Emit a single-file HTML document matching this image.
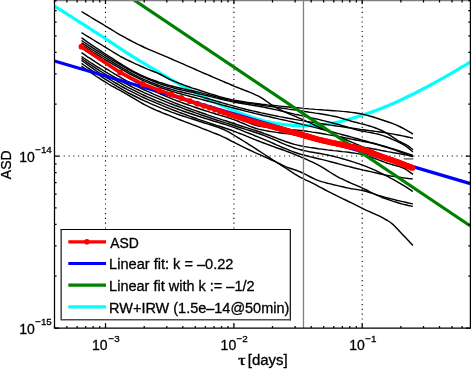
<!DOCTYPE html>
<html><head><meta charset="utf-8"><title>ASD</title>
<style>html,body{margin:0;padding:0;background:#fff}body{width:471px;height:369px;overflow:hidden}</style></head>
<body>
<svg width="471" height="369" viewBox="0 0 471 369" style="display:block;font-family:'Liberation Sans',sans-serif" stroke-linecap="butt">
<rect width="471" height="369" fill="#fff"/>
<clipPath id="c"><rect x="54.5" y="0" width="415.9" height="328.0"/></clipPath>
<g stroke="#000" stroke-width="1.1" stroke-dasharray="1.1 3.69" fill="none">
<path d="M105.5,324.3 V0" />
<path d="M233.9,324.3 V0" />
<path d="M362.2,324.3 V0" />
<path d="M58.9,156.0 H470.4"/>
</g>
<g clip-path="url(#c)" fill="none" stroke-linejoin="round">
<path d="M54.5,6.2 L56.5,7.4 L58.5,8.7 L60.5,9.9 L62.5,11.2 L64.5,12.4 L66.5,13.7 L68.5,15.0 L70.5,16.2 L72.5,17.5 L74.5,18.8 L76.5,20.0 L78.5,21.3 L80.5,22.6 L82.5,23.9 L84.5,25.2 L86.5,26.4 L88.5,27.7 L90.5,29.0 L92.5,30.3 L94.5,31.6 L96.5,32.8 L98.5,34.1 L100.5,35.4 L102.5,36.7 L104.5,38.0 L106.5,39.3 L108.5,40.6 L110.5,42.0 L112.5,43.3 L114.5,44.6 L116.5,46.0 L118.5,47.3 L120.5,48.6 L122.5,50.0 L124.5,51.3 L126.5,52.6 L128.5,53.8 L130.5,55.1 L132.5,56.4 L134.5,57.6 L136.5,58.8 L138.5,60.1 L140.5,61.3 L142.5,62.5 L144.5,63.7 L146.5,64.9 L148.5,66.1 L150.5,67.3 L152.5,68.5 L154.5,69.7 L156.5,70.9 L158.5,72.1 L160.5,73.3 L162.5,74.5 L164.5,75.7 L166.5,76.8 L168.5,78.0 L170.5,79.2 L172.5,80.3 L174.5,81.5 L176.5,82.6 L178.5,83.7 L180.5,84.9 L182.5,86.0 L184.5,87.1 L186.5,88.1 L188.5,89.2 L190.5,90.3 L192.5,91.3 L194.5,92.3 L196.5,93.4 L198.5,94.4 L200.5,95.4 L202.5,96.4 L204.5,97.4 L206.5,98.3 L208.5,99.3 L210.5,100.2 L212.5,101.2 L214.5,102.1 L216.5,103.0 L218.5,103.9 L220.5,104.8 L222.5,105.7 L224.5,106.5 L226.5,107.4 L228.5,108.3 L230.5,109.1 L232.5,109.9 L234.5,110.8 L236.5,111.6 L238.5,112.4 L240.5,113.2 L242.5,113.9 L244.5,114.7 L246.5,115.4 L248.5,116.1 L250.5,116.8 L252.5,117.5 L254.5,118.1 L256.5,118.8 L258.5,119.4 L260.5,119.9 L262.5,120.5 L264.5,121.0 L266.5,121.5 L268.5,121.9 L270.5,122.3 L272.5,122.7 L274.5,123.1 L276.5,123.5 L278.5,123.8 L280.5,124.1 L282.5,124.4 L284.5,124.6 L286.5,124.8 L288.5,125.0 L290.5,125.2 L292.5,125.4 L294.5,125.5 L296.5,125.6 L298.5,125.7 L300.5,125.7 L302.5,125.8 L304.5,125.8 L306.5,125.7 L308.5,125.7 L310.5,125.6 L312.5,125.5 L314.5,125.4 L316.5,125.3 L318.5,125.1 L320.5,124.9 L322.5,124.7 L324.5,124.4 L326.5,124.1 L328.5,123.8 L330.5,123.5 L332.5,123.2 L334.5,122.8 L336.5,122.4 L338.5,122.0 L340.5,121.5 L342.5,121.0 L344.5,120.5 L346.5,120.0 L348.5,119.4 L350.5,118.8 L352.5,118.2 L354.5,117.6 L356.5,117.0 L358.5,116.4 L360.5,115.8 L362.5,115.1 L364.5,114.5 L366.5,113.8 L368.5,113.1 L370.5,112.5 L372.5,111.7 L374.5,111.0 L376.5,110.3 L378.5,109.5 L380.5,108.7 L382.5,107.9 L384.5,107.1 L386.5,106.3 L388.5,105.5 L390.5,104.6 L392.5,103.7 L394.5,102.9 L396.5,102.0 L398.5,101.1 L400.5,100.1 L402.5,99.2 L404.5,98.3 L406.5,97.3 L408.5,96.3 L410.5,95.3 L412.5,94.4 L414.5,93.4 L416.5,92.3 L418.5,91.3 L420.5,90.3 L422.5,89.2 L424.5,88.2 L426.5,87.1 L428.5,86.1 L430.5,85.0 L432.5,83.9 L434.5,82.8 L436.5,81.7 L438.5,80.6 L440.5,79.5 L442.5,78.3 L444.5,77.2 L446.5,76.1 L448.5,74.9 L450.5,73.8 L452.5,72.6 L454.5,71.5 L456.5,70.3 L458.5,69.1 L460.5,67.9 L462.5,66.7 L464.5,65.6 L466.5,64.4 L468.5,63.2 L470.4,62.0" stroke="#00ffff" stroke-width="3.2"/>
<g stroke="#000" stroke-width="1.45">
<path d="M81.5,11.5 L84.5,13.3 L87.5,15.1 L90.5,17.0 L93.5,18.8 L96.5,20.6 L99.5,22.4 L102.5,24.2 L105.5,26.0 L108.5,27.8 L111.5,29.7 L114.5,31.5 L117.5,33.3 L120.5,35.1 L123.5,36.7 L126.5,38.4 L129.5,40.0 L132.5,41.6 L135.5,43.1 L138.5,44.6 L141.5,46.0 L144.5,47.5 L147.5,48.8 L150.5,50.1 L153.5,51.4 L156.5,52.7 L159.5,53.9 L162.5,55.1 L165.5,56.4 L168.5,57.7 L171.5,59.0 L174.5,60.3 L177.5,61.6 L180.5,62.9 L183.5,64.2 L186.5,65.6 L189.5,66.9 L192.5,68.2 L195.5,69.5 L198.5,70.8 L201.5,72.2 L204.5,73.5 L207.5,74.7 L210.5,76.0 L213.5,77.3 L216.5,78.6 L219.5,79.9 L222.5,81.2 L225.5,82.5 L228.5,83.7 L231.5,85.0 L234.5,86.3 L237.5,87.5 L240.5,88.7 L243.5,89.8 L246.5,91.0 L249.5,92.2 L252.5,93.4 L255.5,94.8 L258.5,96.2 L261.5,97.9 L264.5,99.8 L267.5,102.0 L270.5,104.2 L273.5,106.1 L276.5,107.8 L279.5,109.3 L282.5,110.8 L285.5,112.1 L288.5,113.5 L291.5,114.8 L294.5,116.0 L297.5,117.3 L300.5,118.6 L303.5,119.9 L306.5,121.3 L309.5,122.7 L312.5,124.1 L315.5,125.5 L318.5,127.0 L321.5,128.4 L324.5,129.8 L327.5,131.2 L330.5,132.6 L333.5,134.0 L336.5,135.4 L339.5,136.8 L342.5,138.1 L345.5,139.5 L348.5,140.8 L351.5,142.1 L354.5,143.4 L357.5,144.7 L360.5,146.0 L363.5,147.3 L366.5,148.5 L369.5,149.8 L372.5,151.0 L375.5,152.3 L378.5,153.5 L381.5,154.7 L384.5,155.9 L387.5,157.0 L390.5,158.2 L393.5,159.4 L396.5,160.6 L399.5,161.8 L402.5,163.0 L405.5,164.1 L408.5,165.3 L411.5,166.5 L412.9,167.0"/>
<path d="M81.5,32.7 L84.5,34.5 L87.5,36.4 L90.5,38.2 L93.5,40.0 L96.5,41.8 L99.5,43.7 L102.5,45.5 L105.5,47.3 L108.5,49.2 L111.5,51.0 L114.5,52.9 L117.5,54.7 L120.5,56.5 L123.5,58.0 L126.5,59.6 L129.5,61.0 L132.5,62.4 L135.5,63.8 L138.5,65.1 L141.5,66.5 L144.5,67.8 L147.5,69.1 L150.5,70.3 L153.5,71.5 L156.5,72.7 L159.5,74.0 L162.5,75.5 L165.5,77.2 L168.5,78.8 L171.5,80.2 L174.5,81.4 L177.5,82.6 L180.5,83.8 L183.5,84.9 L186.5,86.0 L189.5,87.0 L192.5,88.1 L195.5,89.0 L198.5,90.0 L201.5,91.0 L204.5,91.9 L207.5,92.9 L210.5,93.9 L213.5,94.8 L216.5,95.7 L219.5,96.6 L222.5,97.4 L225.5,98.2 L228.5,98.9 L231.5,99.6 L234.5,100.2 L237.5,100.7 L240.5,101.2 L243.5,101.7 L246.5,102.2 L249.5,102.6 L252.5,103.0 L255.5,103.4 L258.5,103.8 L261.5,104.2 L264.5,104.5 L267.5,104.9 L270.5,105.2 L273.5,105.5 L276.5,105.8 L279.5,106.1 L282.5,106.4 L285.5,106.7 L288.5,107.0 L291.5,107.3 L294.5,107.6 L297.5,107.8 L300.5,108.1 L303.5,108.4 L306.5,108.6 L309.5,108.9 L312.5,109.1 L315.5,109.4 L318.5,109.6 L321.5,109.8 L324.5,110.1 L327.5,110.3 L330.5,110.5 L333.5,110.7 L336.5,110.9 L339.5,111.1 L342.5,111.4 L345.5,111.6 L348.5,112.0 L351.5,112.4 L354.5,112.8 L357.5,113.3 L360.5,113.8 L363.5,114.4 L366.5,115.1 L369.5,116.0 L372.5,116.8 L375.5,117.8 L378.5,118.7 L381.5,119.7 L384.5,120.7 L387.5,121.7 L390.5,122.7 L393.5,123.9 L396.5,125.1 L399.5,126.5 L402.5,128.0 L405.5,129.7 L408.5,131.4 L411.5,133.2 L412.9,134.1"/>
<path d="M81.5,37.8 L84.5,39.9 L87.5,42.1 L90.5,44.1 L93.5,46.2 L96.5,48.2 L99.5,50.2 L102.5,52.2 L105.5,54.1 L108.5,56.0 L111.5,57.9 L114.5,59.8 L117.5,61.8 L120.5,63.6 L123.5,65.5 L126.5,67.3 L129.5,69.1 L132.5,70.8 L135.5,72.4 L138.5,73.9 L141.5,75.3 L144.5,76.6 L147.5,77.9 L150.5,79.1 L153.5,80.2 L156.5,81.3 L159.5,82.4 L162.5,83.3 L165.5,84.3 L168.5,85.2 L171.5,86.0 L174.5,86.8 L177.5,87.5 L180.5,88.2 L183.5,88.9 L186.5,89.5 L189.5,90.2 L192.5,90.8 L195.5,91.5 L198.5,92.1 L201.5,92.9 L204.5,93.6 L207.5,94.4 L210.5,95.2 L213.5,96.1 L216.5,96.9 L219.5,97.7 L222.5,98.5 L225.5,99.2 L228.5,99.9 L231.5,100.6 L234.5,101.2 L237.5,101.7 L240.5,102.2 L243.5,102.6 L246.5,103.1 L249.5,103.5 L252.5,103.9 L255.5,104.4 L258.5,104.8 L261.5,105.2 L264.5,105.7 L267.5,106.1 L270.5,106.5 L273.5,106.9 L276.5,107.4 L279.5,107.8 L282.5,108.2 L285.5,108.6 L288.5,109.1 L291.5,109.5 L294.5,109.9 L297.5,110.4 L300.5,110.8 L303.5,111.3 L306.5,111.7 L309.5,112.2 L312.5,112.6 L315.5,113.1 L318.5,113.5 L321.5,114.0 L324.5,114.5 L327.5,115.0 L330.5,115.6 L333.5,116.2 L336.5,116.8 L339.5,117.6 L342.5,118.5 L345.5,119.4 L348.5,120.3 L351.5,121.2 L354.5,122.0 L357.5,122.8 L360.5,123.6 L363.5,124.3 L366.5,125.1 L369.5,126.0 L372.5,126.9 L375.5,128.0 L378.5,129.2 L381.5,130.5 L384.5,132.0 L387.5,133.6 L390.5,135.6 L393.5,137.7 L396.5,139.7 L399.5,141.5 L402.5,143.0 L405.5,144.5 L408.5,146.2 L411.5,148.5 L412.9,149.8"/>
<path d="M81.5,40.5 L84.5,42.5 L87.5,44.5 L90.5,46.4 L93.5,48.4 L96.5,50.3 L99.5,52.1 L102.5,54.0 L105.5,55.8 L108.5,57.6 L111.5,59.5 L114.5,61.3 L117.5,63.1 L120.5,64.9 L123.5,66.7 L126.5,68.5 L129.5,70.2 L132.5,71.8 L135.5,73.4 L138.5,74.9 L141.5,76.3 L144.5,77.7 L147.5,78.9 L150.5,80.2 L153.5,81.4 L156.5,82.5 L159.5,83.6 L162.5,84.7 L165.5,85.6 L168.5,86.6 L171.5,87.4 L174.5,88.2 L177.5,89.0 L180.5,89.7 L183.5,90.4 L186.5,91.0 L189.5,91.7 L192.5,92.3 L195.5,93.0 L198.5,93.7 L201.5,94.4 L204.5,95.1 L207.5,95.8 L210.5,96.6 L213.5,97.3 L216.5,98.1 L219.5,98.8 L222.5,99.6 L225.5,100.3 L228.5,100.9 L231.5,101.6 L234.5,102.2 L237.5,102.7 L240.5,103.3 L243.5,103.7 L246.5,104.2 L249.5,104.7 L252.5,105.2 L255.5,105.7 L258.5,106.2 L261.5,106.8 L264.5,107.4 L267.5,108.0 L270.5,108.6 L273.5,109.3 L276.5,109.9 L279.5,110.6 L282.5,111.3 L285.5,112.0 L288.5,112.7 L291.5,113.4 L294.5,114.1 L297.5,114.7 L300.5,115.4 L303.5,116.1 L306.5,116.7 L309.5,117.4 L312.5,118.1 L315.5,118.8 L318.5,119.4 L321.5,120.2 L324.5,120.9 L327.5,121.6 L330.5,122.4 L333.5,123.2 L336.5,124.0 L339.5,124.8 L342.5,125.6 L345.5,126.5 L348.5,127.4 L351.5,128.3 L354.5,129.2 L357.5,130.0 L360.5,130.7 L363.5,131.3 L366.5,131.9 L369.5,132.4 L372.5,133.0 L375.5,133.6 L378.5,134.3 L381.5,135.1 L384.5,136.1 L387.5,137.2 L390.5,138.5 L393.5,139.8 L396.5,141.2 L399.5,142.6 L402.5,144.2 L405.5,146.0 L408.5,148.1 L411.5,150.7 L412.9,152.0"/>
<path d="M81.5,42.8 L84.5,44.7 L87.5,46.7 L90.5,48.6 L93.5,50.5 L96.5,52.3 L99.5,54.2 L102.5,56.0 L105.5,57.8 L108.5,59.6 L111.5,61.4 L114.5,63.3 L117.5,65.1 L120.5,66.9 L123.5,68.7 L126.5,70.4 L129.5,72.1 L132.5,73.8 L135.5,75.4 L138.5,76.9 L141.5,78.3 L144.5,79.7 L147.5,80.9 L150.5,82.2 L153.5,83.3 L156.5,84.5 L159.5,85.6 L162.5,86.6 L165.5,87.6 L168.5,88.5 L171.5,89.4 L174.5,90.3 L177.5,91.1 L180.5,91.8 L183.5,92.5 L186.5,93.2 L189.5,93.9 L192.5,94.6 L195.5,95.4 L198.5,96.1 L201.5,96.9 L204.5,97.7 L207.5,98.5 L210.5,99.4 L213.5,100.3 L216.5,101.1 L219.5,102.0 L222.5,102.9 L225.5,103.7 L228.5,104.6 L231.5,105.4 L234.5,106.3 L237.5,107.1 L240.5,107.9 L243.5,108.7 L246.5,109.5 L249.5,110.2 L252.5,110.9 L255.5,111.5 L258.5,112.2 L261.5,112.9 L264.5,113.5 L267.5,114.1 L270.5,114.8 L273.5,115.4 L276.5,116.0 L279.5,116.6 L282.5,117.1 L285.5,117.7 L288.5,118.3 L291.5,118.8 L294.5,119.4 L297.5,119.9 L300.5,120.4 L303.5,120.9 L306.5,121.5 L309.5,121.9 L312.5,122.4 L315.5,122.9 L318.5,123.3 L321.5,123.8 L324.5,124.2 L327.5,124.6 L330.5,125.1 L333.5,125.5 L336.5,126.0 L339.5,126.4 L342.5,126.8 L345.5,127.2 L348.5,127.7 L351.5,128.1 L354.5,128.5 L357.5,128.9 L360.5,129.4 L363.5,129.8 L366.5,130.2 L369.5,130.6 L372.5,131.0 L375.5,131.4 L378.5,131.8 L381.5,132.2 L384.5,132.6 L387.5,133.1 L390.5,133.6 L393.5,134.1 L396.5,134.7 L399.5,135.3 L402.5,135.9 L405.5,136.5 L408.5,137.2 L411.5,137.9 L412.9,138.2"/>
<path d="M81.5,44.7 L84.5,46.7 L87.5,48.6 L90.5,50.6 L93.5,52.5 L96.5,54.4 L99.5,56.2 L102.5,58.0 L105.5,59.8 L108.5,61.6 L111.5,63.4 L114.5,65.2 L117.5,66.9 L120.5,68.7 L123.5,70.4 L126.5,72.1 L129.5,73.8 L132.5,75.4 L135.5,76.9 L138.5,78.4 L141.5,79.8 L144.5,81.2 L147.5,82.4 L150.5,83.7 L153.5,84.9 L156.5,86.0 L159.5,87.1 L162.5,88.2 L165.5,89.2 L168.5,90.2 L171.5,91.2 L174.5,92.1 L177.5,93.0 L180.5,93.8 L183.5,94.6 L186.5,95.4 L189.5,96.2 L192.5,97.0 L195.5,97.8 L198.5,98.6 L201.5,99.4 L204.5,100.2 L207.5,101.0 L210.5,101.8 L213.5,102.6 L216.5,103.4 L219.5,104.3 L222.5,105.1 L225.5,105.8 L228.5,106.6 L231.5,107.4 L234.5,108.2 L237.5,109.0 L240.5,109.8 L243.5,110.6 L246.5,111.4 L249.5,112.1 L252.5,112.8 L255.5,113.6 L258.5,114.3 L261.5,115.0 L264.5,115.7 L267.5,116.3 L270.5,117.0 L273.5,117.7 L276.5,118.4 L279.5,119.1 L282.5,119.7 L285.5,120.4 L288.5,121.1 L291.5,121.8 L294.5,122.5 L297.5,123.2 L300.5,123.9 L303.5,124.6 L306.5,125.4 L309.5,126.1 L312.5,126.9 L315.5,127.6 L318.5,128.4 L321.5,129.2 L324.5,129.9 L327.5,130.7 L330.5,131.5 L333.5,132.3 L336.5,133.1 L339.5,133.9 L342.5,134.7 L345.5,135.5 L348.5,136.3 L351.5,137.1 L354.5,138.0 L357.5,138.8 L360.5,139.6 L363.5,140.5 L366.5,141.3 L369.5,142.2 L372.5,143.0 L375.5,143.8 L378.5,144.7 L381.5,145.5 L384.5,146.3 L387.5,147.2 L390.5,148.1 L393.5,149.0 L396.5,149.9 L399.5,150.9 L402.5,151.9 L405.5,152.9 L408.5,153.9 L411.5,155.0 L412.9,155.5"/>
<path d="M81.5,47.3 L84.5,49.3 L87.5,51.3 L90.5,53.3 L93.5,55.3 L96.5,57.2 L99.5,59.1 L102.5,61.0 L105.5,62.9 L108.5,64.8 L111.5,66.7 L114.5,68.6 L117.5,70.5 L120.5,72.4 L123.5,74.2 L126.5,76.0 L129.5,77.7 L132.5,79.3 L135.5,80.8 L138.5,82.3 L141.5,83.7 L144.5,85.0 L147.5,86.3 L150.5,87.6 L153.5,88.8 L156.5,90.0 L159.5,91.2 L162.5,92.4 L165.5,93.5 L168.5,94.6 L171.5,95.8 L174.5,96.9 L177.5,97.9 L180.5,99.0 L183.5,100.0 L186.5,101.0 L189.5,102.0 L192.5,103.0 L195.5,104.0 L198.5,105.0 L201.5,106.0 L204.5,107.0 L207.5,108.0 L210.5,108.9 L213.5,109.9 L216.5,110.8 L219.5,111.8 L222.5,112.8 L225.5,113.8 L228.5,114.8 L231.5,115.8 L234.5,116.8 L237.5,118.0 L240.5,119.2 L243.5,120.6 L246.5,121.9 L249.5,123.1 L252.5,124.2 L255.5,125.2 L258.5,126.0 L261.5,126.5 L264.5,127.0 L267.5,127.4 L270.5,127.8 L273.5,128.1 L276.5,128.4 L279.5,128.6 L282.5,128.9 L285.5,129.1 L288.5,129.4 L291.5,129.6 L294.5,129.9 L297.5,130.2 L300.5,130.5 L303.5,130.8 L306.5,131.2 L309.5,131.6 L312.5,132.1 L315.5,132.5 L318.5,133.0 L321.5,133.5 L324.5,134.0 L327.5,134.6 L330.5,135.1 L333.5,135.6 L336.5,136.2 L339.5,136.7 L342.5,137.3 L345.5,137.9 L348.5,138.5 L351.5,139.1 L354.5,139.7 L357.5,140.3 L360.5,140.9 L363.5,141.5 L366.5,142.0 L369.5,142.6 L372.5,143.3 L375.5,144.0 L378.5,144.8 L381.5,145.7 L384.5,146.7 L387.5,147.6 L390.5,148.6 L393.5,149.6 L396.5,150.6 L399.5,151.7 L402.5,152.8 L405.5,153.9 L408.5,155.1 L411.5,156.2 L412.9,156.8"/>
<path d="M81.5,47.8 L84.5,49.8 L87.5,51.9 L90.5,53.9 L93.5,55.8 L96.5,57.8 L99.5,59.8 L102.5,61.7 L105.5,63.6 L108.5,65.5 L111.5,67.4 L114.5,69.3 L117.5,71.3 L120.5,73.1 L123.5,75.0 L126.5,76.8 L129.5,78.5 L132.5,80.2 L135.5,81.9 L138.5,83.4 L141.5,85.0 L144.5,86.5 L147.5,88.0 L150.5,89.4 L153.5,90.8 L156.5,92.2 L159.5,93.5 L162.5,94.8 L165.5,96.1 L168.5,97.4 L171.5,98.6 L174.5,99.8 L177.5,101.0 L180.5,102.1 L183.5,103.2 L186.5,104.3 L189.5,105.4 L192.5,106.4 L195.5,107.5 L198.5,108.5 L201.5,109.5 L204.5,110.5 L207.5,111.4 L210.5,112.4 L213.5,113.3 L216.5,114.2 L219.5,115.1 L222.5,116.0 L225.5,116.9 L228.5,117.9 L231.5,118.9 L234.5,119.9 L237.5,121.0 L240.5,122.3 L243.5,123.5 L246.5,124.8 L249.5,126.1 L252.5,127.2 L255.5,128.3 L258.5,129.1 L261.5,129.8 L264.5,130.4 L267.5,131.0 L270.5,131.5 L273.5,131.9 L276.5,132.4 L279.5,132.8 L282.5,133.2 L285.5,133.5 L288.5,133.9 L291.5,134.3 L294.5,134.7 L297.5,135.1 L300.5,135.5 L303.5,136.0 L306.5,136.5 L309.5,137.0 L312.5,137.5 L315.5,138.0 L318.5,138.6 L321.5,139.1 L324.5,139.6 L327.5,140.2 L330.5,140.7 L333.5,141.3 L336.5,141.9 L339.5,142.4 L342.5,143.0 L345.5,143.5 L348.5,144.1 L351.5,144.7 L354.5,145.3 L357.5,145.9 L360.5,146.5 L363.5,147.1 L366.5,147.6 L369.5,148.2 L372.5,148.8 L375.5,149.3 L378.5,149.9 L381.5,150.5 L384.5,151.0 L387.5,151.6 L390.5,152.1 L393.5,152.7 L396.5,153.2 L399.5,153.8 L402.5,154.3 L405.5,154.9 L408.5,155.4 L411.5,155.9 L412.9,156.2"/>
<path d="M81.5,52.7 L84.5,54.7 L87.5,56.8 L90.5,58.7 L93.5,60.7 L96.5,62.7 L99.5,64.6 L102.5,66.5 L105.5,68.3 L108.5,70.2 L111.5,72.0 L114.5,73.8 L117.5,75.6 L120.5,77.4 L123.5,79.1 L126.5,80.9 L129.5,82.5 L132.5,84.1 L135.5,85.7 L138.5,87.1 L141.5,88.6 L144.5,90.0 L147.5,91.4 L150.5,92.7 L153.5,94.1 L156.5,95.4 L159.5,96.7 L162.5,97.9 L165.5,99.2 L168.5,100.4 L171.5,101.6 L174.5,102.8 L177.5,104.0 L180.5,105.1 L183.5,106.3 L186.5,107.4 L189.5,108.5 L192.5,109.6 L195.5,110.6 L198.5,111.7 L201.5,112.8 L204.5,113.8 L207.5,114.9 L210.5,115.9 L213.5,116.9 L216.5,117.9 L219.5,118.9 L222.5,119.9 L225.5,120.8 L228.5,121.8 L231.5,122.8 L234.5,123.8 L237.5,124.8 L240.5,125.7 L243.5,126.7 L246.5,127.6 L249.5,128.6 L252.5,129.6 L255.5,130.5 L258.5,131.5 L261.5,132.5 L264.5,133.6 L267.5,134.7 L270.5,135.8 L273.5,137.0 L276.5,138.1 L279.5,139.3 L282.5,140.4 L285.5,141.5 L288.5,142.5 L291.5,143.5 L294.5,144.4 L297.5,145.1 L300.5,145.8 L303.5,146.4 L306.5,146.9 L309.5,147.4 L312.5,147.8 L315.5,148.2 L318.5,148.7 L321.5,149.1 L324.5,149.5 L327.5,149.9 L330.5,150.2 L333.5,150.6 L336.5,150.9 L339.5,151.2 L342.5,151.6 L345.5,151.9 L348.5,152.3 L351.5,152.7 L354.5,153.1 L357.5,153.6 L360.5,154.1 L363.5,154.8 L366.5,155.6 L369.5,156.6 L372.5,157.6 L375.5,158.7 L378.5,159.9 L381.5,161.0 L384.5,162.1 L387.5,163.2 L390.5,164.1 L393.5,165.0 L396.5,165.7 L399.5,166.6 L402.5,167.7 L405.5,169.2 L408.5,171.1 L411.5,173.3 L412.9,174.4"/>
<path d="M81.5,56.5 L84.5,58.5 L87.5,60.5 L90.5,62.5 L93.5,64.4 L96.5,66.3 L99.5,68.2 L102.5,70.0 L105.5,71.8 L108.5,73.6 L111.5,75.4 L114.5,77.2 L117.5,78.9 L120.5,80.6 L123.5,82.3 L126.5,83.9 L129.5,85.5 L132.5,87.1 L135.5,88.6 L138.5,90.0 L141.5,91.4 L144.5,92.8 L147.5,94.1 L150.5,95.4 L153.5,96.7 L156.5,97.9 L159.5,99.2 L162.5,100.4 L165.5,101.6 L168.5,102.8 L171.5,104.0 L174.5,105.2 L177.5,106.3 L180.5,107.4 L183.5,108.6 L186.5,109.7 L189.5,110.7 L192.5,111.8 L195.5,112.9 L198.5,113.9 L201.5,115.0 L204.5,116.0 L207.5,117.0 L210.5,118.0 L213.5,119.0 L216.5,120.0 L219.5,120.9 L222.5,121.9 L225.5,122.9 L228.5,123.8 L231.5,124.8 L234.5,125.8 L237.5,126.8 L240.5,127.7 L243.5,128.6 L246.5,129.6 L249.5,130.5 L252.5,131.5 L255.5,132.5 L258.5,133.5 L261.5,134.5 L264.5,135.7 L267.5,136.9 L270.5,138.1 L273.5,139.4 L276.5,140.7 L279.5,142.0 L282.5,143.3 L285.5,144.6 L288.5,145.8 L291.5,146.9 L294.5,148.0 L297.5,148.9 L300.5,149.7 L303.5,150.5 L306.5,151.1 L309.5,151.7 L312.5,152.2 L315.5,152.8 L318.5,153.3 L321.5,153.8 L324.5,154.4 L327.5,155.0 L330.5,155.6 L333.5,156.3 L336.5,157.1 L339.5,157.9 L342.5,158.7 L345.5,159.6 L348.5,160.5 L351.5,161.4 L354.5,162.4 L357.5,163.4 L360.5,164.4 L363.5,165.4 L366.5,166.6 L369.5,167.8 L372.5,169.1 L375.5,170.4 L378.5,171.9 L381.5,173.3 L384.5,174.9 L387.5,176.4 L390.5,178.1 L393.5,179.7 L396.5,181.4 L399.5,183.1 L402.5,184.9 L405.5,186.7 L408.5,188.6 L411.5,190.6 L412.9,191.5"/>
<path d="M81.5,58.4 L84.5,60.5 L87.5,62.6 L90.5,64.6 L93.5,66.6 L96.5,68.6 L99.5,70.6 L102.5,72.5 L105.5,74.3 L108.5,76.1 L111.5,78.0 L114.5,79.7 L117.5,81.5 L120.5,83.2 L123.5,84.9 L126.5,86.6 L129.5,88.2 L132.5,89.7 L135.5,91.2 L138.5,92.7 L141.5,94.1 L144.5,95.5 L147.5,96.9 L150.5,98.2 L153.5,99.5 L156.5,100.8 L159.5,102.0 L162.5,103.2 L165.5,104.4 L168.5,105.6 L171.5,106.8 L174.5,107.9 L177.5,109.0 L180.5,110.1 L183.5,111.2 L186.5,112.2 L189.5,113.2 L192.5,114.2 L195.5,115.3 L198.5,116.3 L201.5,117.2 L204.5,118.2 L207.5,119.1 L210.5,120.0 L213.5,121.0 L216.5,121.8 L219.5,122.8 L222.5,123.7 L225.5,124.6 L228.5,125.6 L231.5,126.6 L234.5,127.6 L237.5,128.7 L240.5,129.9 L243.5,131.1 L246.5,132.3 L249.5,133.5 L252.5,134.7 L255.5,136.0 L258.5,137.2 L261.5,138.4 L264.5,139.7 L267.5,140.9 L270.5,142.2 L273.5,143.5 L276.5,144.9 L279.5,146.2 L282.5,147.5 L285.5,148.7 L288.5,149.9 L291.5,151.1 L294.5,152.2 L297.5,153.2 L300.5,154.2 L303.5,155.0 L306.5,155.8 L309.5,156.6 L312.5,157.3 L315.5,158.0 L318.5,158.7 L321.5,159.4 L324.5,160.1 L327.5,160.9 L330.5,161.7 L333.5,162.5 L336.5,163.3 L339.5,164.1 L342.5,164.9 L345.5,165.7 L348.5,166.4 L351.5,167.2 L354.5,168.0 L357.5,168.7 L360.5,169.4 L363.5,170.1 L366.5,170.7 L369.5,171.4 L372.5,172.1 L375.5,172.8 L378.5,173.5 L381.5,174.2 L384.5,174.8 L387.5,175.4 L390.5,176.0 L393.5,176.4 L396.5,176.9 L399.5,177.3 L402.5,177.8 L405.5,178.1 L408.5,178.5 L411.5,178.8 L412.9,178.9"/>
<path d="M81.5,60.3 L84.5,62.5 L87.5,64.7 L90.5,66.8 L93.5,68.9 L96.5,71.0 L99.5,73.0 L102.5,74.9 L105.5,76.8 L108.5,78.7 L111.5,80.5 L114.5,82.3 L117.5,84.0 L120.5,85.8 L123.5,87.5 L126.5,89.1 L129.5,90.7 L132.5,92.2 L135.5,93.7 L138.5,95.2 L141.5,96.6 L144.5,98.0 L147.5,99.3 L150.5,100.6 L153.5,101.9 L156.5,103.2 L159.5,104.4 L162.5,105.7 L165.5,106.9 L168.5,108.1 L171.5,109.3 L174.5,110.5 L177.5,111.6 L180.5,112.8 L183.5,113.9 L186.5,115.0 L189.5,116.1 L192.5,117.2 L195.5,118.3 L198.5,119.4 L201.5,120.4 L204.5,121.4 L207.5,122.4 L210.5,123.4 L213.5,124.4 L216.5,125.4 L219.5,126.3 L222.5,127.3 L225.5,128.3 L228.5,129.3 L231.5,130.3 L234.5,131.4 L237.5,132.6 L240.5,133.7 L243.5,134.9 L246.5,136.2 L249.5,137.4 L252.5,138.6 L255.5,139.8 L258.5,141.0 L261.5,142.2 L264.5,143.3 L267.5,144.4 L270.5,145.5 L273.5,146.6 L276.5,147.7 L279.5,148.7 L282.5,149.8 L285.5,150.9 L288.5,152.0 L291.5,153.2 L294.5,154.4 L297.5,155.6 L300.5,156.8 L303.5,158.1 L306.5,159.4 L309.5,160.8 L312.5,162.2 L315.5,163.7 L318.5,165.2 L321.5,166.9 L324.5,168.7 L327.5,170.6 L330.5,172.5 L333.5,174.4 L336.5,176.2 L339.5,177.8 L342.5,179.2 L345.5,180.7 L348.5,182.0 L351.5,183.3 L354.5,184.6 L357.5,185.9 L360.5,187.2 L363.5,188.6 L366.5,190.0 L369.5,191.6 L372.5,193.1 L375.5,194.6 L378.5,195.9 L381.5,197.2 L384.5,198.3 L387.5,199.3 L390.5,200.4 L393.5,201.4 L396.5,202.3 L399.5,203.2 L402.5,204.1 L405.5,204.8 L408.5,205.5 L411.5,206.1 L412.9,206.4"/>
<path d="M81.5,63.4 L84.5,65.5 L87.5,67.6 L90.5,69.6 L93.5,71.6 L96.5,73.6 L99.5,75.5 L102.5,77.4 L105.5,79.3 L108.5,81.2 L111.5,83.0 L114.5,84.8 L117.5,86.6 L120.5,88.4 L123.5,90.1 L126.5,91.8 L129.5,93.5 L132.5,95.0 L135.5,96.5 L138.5,98.0 L141.5,99.5 L144.5,100.9 L147.5,102.2 L150.5,103.6 L153.5,104.9 L156.5,106.1 L159.5,107.4 L162.5,108.6 L165.5,109.8 L168.5,110.9 L171.5,112.1 L174.5,113.1 L177.5,114.2 L180.5,115.2 L183.5,116.2 L186.5,117.1 L189.5,118.1 L192.5,119.0 L195.5,120.0 L198.5,121.0 L201.5,122.0 L204.5,123.0 L207.5,123.9 L210.5,124.8 L213.5,125.8 L216.5,126.8 L219.5,127.9 L222.5,129.0 L225.5,130.3 L228.5,131.9 L231.5,133.7 L234.5,135.5 L237.5,137.3 L240.5,139.2 L243.5,141.0 L246.5,142.9 L249.5,144.8 L252.5,146.7 L255.5,148.6 L258.5,150.6 L261.5,152.5 L264.5,154.5 L267.5,156.4 L270.5,158.3 L273.5,160.3 L276.5,162.2 L279.5,164.2 L282.5,166.1 L285.5,168.0 L288.5,169.9 L291.5,171.9 L294.5,173.8 L297.5,175.6 L300.5,177.3 L303.5,178.8 L306.5,180.3 L309.5,181.7 L312.5,183.2 L315.5,184.7 L318.5,186.3 L321.5,187.9 L324.5,189.5 L327.5,191.1 L330.5,192.7 L333.5,194.2 L336.5,195.7 L339.5,197.1 L342.5,198.6 L345.5,200.0 L348.5,201.5 L351.5,202.9 L354.5,204.4 L357.5,205.9 L360.5,207.4 L363.5,208.8 L366.5,210.3 L369.5,211.6 L372.5,213.0 L375.5,214.3 L378.5,215.7 L381.5,217.2 L384.5,218.8 L387.5,220.5 L390.5,222.5 L393.5,224.9 L396.5,227.9 L399.5,231.2 L402.5,234.4 L405.5,237.5 L408.5,240.7 L411.5,243.9 L412.9,245.4"/>
<path d="M81.5,66.1 L84.5,68.3 L87.5,70.4 L90.5,72.5 L93.5,74.5 L96.5,76.5 L99.5,78.4 L102.5,80.4 L105.5,82.2 L108.5,84.0 L111.5,85.8 L114.5,87.4 L117.5,89.1 L120.5,90.7 L123.5,92.4 L126.5,94.1 L129.5,95.8 L132.5,97.6 L135.5,99.4 L138.5,101.2 L141.5,103.0 L144.5,104.7 L147.5,106.2 L150.5,107.6 L153.5,109.0 L156.5,110.3 L159.5,111.5 L162.5,112.8 L165.5,114.0 L168.5,115.2 L171.5,116.4 L174.5,117.6 L177.5,118.8 L180.5,120.0 L183.5,121.1 L186.5,122.3 L189.5,123.4 L192.5,124.6 L195.5,125.7 L198.5,126.9 L201.5,128.1 L204.5,129.3 L207.5,130.4 L210.5,131.6 L213.5,132.8 L216.5,134.0 L219.5,135.2 L222.5,136.6 L225.5,137.9 L228.5,139.5 L231.5,141.1 L234.5,142.7 L237.5,144.2 L240.5,145.7 L243.5,147.2 L246.5,148.6 L249.5,150.0 L252.5,151.4 L255.5,152.8 L258.5,154.1 L261.5,155.4 L264.5,156.8 L267.5,158.1 L270.5,159.5 L273.5,160.9 L276.5,162.3 L279.5,163.7 L282.5,165.2 L285.5,166.6 L288.5,167.8 L291.5,168.8 L294.5,169.8 L297.5,170.8 L300.5,172.0 L303.5,173.4 L306.5,174.9 L309.5,176.5 L312.5,178.0 L315.5,179.4 L318.5,180.6 L321.5,181.6 L324.5,182.4 L327.5,183.2 L330.5,183.9 L333.5,184.7 L336.5,185.4 L339.5,186.1 L342.5,186.8 L345.5,187.5 L348.5,188.1 L351.5,188.7 L354.5,189.1 L357.5,189.6 L360.5,190.1 L363.5,190.7 L366.5,191.5 L369.5,192.5 L372.5,193.4 L375.5,194.4 L378.5,195.4 L381.5,196.3 L384.5,197.1 L387.5,197.9 L390.5,198.7 L393.5,199.4 L396.5,200.2 L399.5,200.9 L402.5,201.6 L405.5,202.3 L408.5,203.0 L411.5,203.6 L412.9,203.9"/>
</g>
<path d="M403.8,158.9 H413.3" stroke="#808080" stroke-width="1.6"/>
<path d="M303.5,0 V328.0" stroke="#808080" stroke-width="1.3"/>
<path d="M54.5,61.0 L470.4,183.6" stroke="#0000ff" stroke-width="3.2"/>
<path d="M126.6,-5 L470.4,226.0" stroke="#008000" stroke-width="3.2"/>
<path d="M81.5,46.7 L120.1,72.4 L142.7,84.0 L158.7,90.1 L171.1,94.5 L181.3,98.0 L189.9,101.2 L197.3,103.7 L203.9,105.8 L209.7,107.7 L215.0,109.5 L219.9,111.2 L224.3,112.7 L228.5,114.1 L232.3,115.3 L235.9,116.5 L239.3,117.5 L242.5,118.5 L245.5,119.4 L248.3,120.2 L251.1,121.0 L253.6,121.7 L256.1,122.4 L258.5,123.1 L260.8,123.7 L262.9,124.2 L265.0,124.8 L267.1,125.3 L269.0,125.8 L270.9,126.3 L272.7,126.8 L274.5,127.3 L276.2,127.8 L277.9,128.2 L279.5,128.7 L281.1,129.1 L282.6,129.5 L284.1,129.9 L285.5,130.3 L286.9,130.7 L288.3,131.1 L289.7,131.4 L291.0,131.8 L292.2,132.1 L293.5,132.5 L294.7,132.8 L295.9,133.2 L297.1,133.5 L298.2,133.8 L299.4,134.1 L300.5,134.4 L301.6,134.7 L302.6,135.0 L303.7,135.3 L304.7,135.6 L305.7,135.9 L306.7,136.2 L307.6,136.4 L308.6,136.7 L309.5,137.0 L310.4,137.3 L311.3,137.5 L312.2,137.8 L313.1,138.0 L314.0,138.3 L314.8,138.5 L315.7,138.8 L316.5,139.0 L317.3,139.2 L318.1,139.4 L318.9,139.6 L319.7,139.8 L320.4,140.0 L321.2,140.2 L321.9,140.4 L322.7,140.5 L323.4,140.7 L324.1,140.9 L324.8,141.0 L325.5,141.2 L326.2,141.4 L326.9,141.5 L327.6,141.7 L328.3,141.8 L328.9,141.9 L329.6,142.1 L330.2,142.2 L330.8,142.4 L331.5,142.5 L332.1,142.6 L332.7,142.8 L333.3,142.9 L333.9,143.0 L334.5,143.1 L335.1,143.3 L335.7,143.4 L336.3,143.5 L336.8,143.6 L337.4,143.7 L338.0,143.9 L338.5,144.0 L339.1,144.1 L339.6,144.2 L340.2,144.3 L340.7,144.4 L341.2,144.6 L341.7,144.7 L342.3,144.8 L342.8,144.9 L343.3,145.0 L343.8,145.1 L344.3,145.2 L344.8,145.3 L345.3,145.4 L345.8,145.5 L346.2,145.6 L346.7,145.7 L347.2,145.8 L347.7,145.9 L348.1,145.9 L348.6,146.0 L349.0,146.1 L349.5,146.2 L349.9,146.3 L350.4,146.4 L350.8,146.5 L351.3,146.6 L351.7,146.7 L352.2,146.8 L352.6,146.8 L353.0,146.9 L353.4,147.0 L353.9,147.1 L354.3,147.2 L354.7,147.3 L355.1,147.4 L355.5,147.5 L355.9,147.6 L356.3,147.7 L356.7,147.8 L357.1,147.9 L357.5,148.0 L357.9,148.1 L358.3,148.1 L358.7,148.2 L359.0,148.3 L359.4,148.4 L359.8,148.5 L360.2,148.6 L360.5,148.8 L360.9,148.9 L361.3,149.0 L361.7,149.1 L362.0,149.2 L362.4,149.3 L362.7,149.4 L363.1,149.5 L363.4,149.6 L363.8,149.8 L364.1,149.9 L364.5,150.0 L364.8,150.1 L365.2,150.2 L365.5,150.4 L365.9,150.5 L366.2,150.6 L366.5,150.7 L366.9,150.9 L367.2,151.0 L367.5,151.1 L367.8,151.2 L368.2,151.4 L368.5,151.5 L368.8,151.6 L369.1,151.7 L369.5,151.9 L369.8,152.0 L370.1,152.1 L370.4,152.2 L370.7,152.4 L371.0,152.5 L371.3,152.6 L371.6,152.7 L371.9,152.9 L372.2,153.0 L372.5,153.1 L372.8,153.2 L373.1,153.3 L373.4,153.5 L373.7,153.6 L374.0,153.7 L374.3,153.8 L374.6,153.9 L374.9,154.0 L375.2,154.2 L375.4,154.3 L375.7,154.4 L376.0,154.5 L376.3,154.6 L376.6,154.7 L376.8,154.8 L377.1,154.9 L377.4,155.0 L377.7,155.1 L377.9,155.2 L378.2,155.3 L378.5,155.4 L378.8,155.5 L379.0,155.6 L379.3,155.7 L379.6,155.8 L379.8,155.9 L380.1,156.0 L380.3,156.1 L380.6,156.2 L380.9,156.3 L381.1,156.4 L381.4,156.5 L381.6,156.6 L381.9,156.7 L382.1,156.8 L382.4,156.8 L382.6,156.9 L382.9,157.0 L383.1,157.1 L383.4,157.2 L383.6,157.3 L383.9,157.4 L384.1,157.4 L384.4,157.5 L384.6,157.6 L384.8,157.7 L385.1,157.8 L385.3,157.9 L385.6,157.9 L385.8,158.0 L386.0,158.1 L386.3,158.2 L386.5,158.3 L386.7,158.3 L387.0,158.4 L387.2,158.5 L387.4,158.6 L387.6,158.7 L387.9,158.7 L388.1,158.8 L388.3,158.9 L388.6,159.0 L388.8,159.0 L389.0,159.1 L389.2,159.2 L389.4,159.3 L389.7,159.3 L389.9,159.4 L390.1,159.5 L390.3,159.6 L390.5,159.6 L390.8,159.7 L391.0,159.8 L391.2,159.9 L391.4,159.9 L391.6,160.0 L391.8,160.1 L392.0,160.2 L392.2,160.2 L392.5,160.3 L392.7,160.4 L392.9,160.5 L393.1,160.5 L393.3,160.6 L393.5,160.7 L393.7,160.7 L393.9,160.8 L394.1,160.9 L394.3,160.9 L394.5,161.0 L394.7,161.1 L394.9,161.2 L395.1,161.2 L395.3,161.3 L395.5,161.4 L395.7,161.4 L395.9,161.5 L396.1,161.6 L396.3,161.7 L396.5,161.7 L396.7,161.8 L396.9,161.9 L397.1,161.9 L397.3,162.0 L397.5,162.1 L397.6,162.1 L397.8,162.2 L398.0,162.3 L398.2,162.3 L398.4,162.4 L398.6,162.5 L398.8,162.5 L399.0,162.6 L399.2,162.7 L399.3,162.8 L399.5,162.8 L399.7,162.9 L399.9,163.0 L400.1,163.0 L400.3,163.1 L400.4,163.2 L400.6,163.2 L400.8,163.3 L401.0,163.4 L401.2,163.4 L401.3,163.5 L401.5,163.6 L401.7,163.6 L401.9,163.7 L402.0,163.8 L402.2,163.8 L402.4,163.9 L402.6,164.0 L402.7,164.0 L402.9,164.1 L403.1,164.2 L403.3,164.2 L403.4,164.3 L403.6,164.4 L403.8,164.4 L404.0,164.5 L404.1,164.6 L404.3,164.6 L404.5,164.7 L404.6,164.8 L404.8,164.8 L405.0,164.9 L405.1,165.0 L405.3,165.0 L405.5,165.1 L405.6,165.2 L405.8,165.2 L406.0,165.3 L406.1,165.4 L406.3,165.4 L406.4,165.5 L406.6,165.6 L406.8,165.6 L406.9,165.7 L407.1,165.8 L407.3,165.8 L407.4,165.9 L407.6,165.9 L407.7,166.0 L407.9,166.1 L408.1,166.1 L408.2,166.2 L408.4,166.3 L408.5,166.3 L408.7,166.4 L408.8,166.5 L409.0,166.5 L409.2,166.6 L409.3,166.6 L409.5,166.7 L409.6,166.8 L409.8,166.8 L409.9,166.9 L410.1,167.0 L410.2,167.0 L410.4,167.1 L410.5,167.1 L410.7,167.2 L410.8,167.3 L411.0,167.3 L411.1,167.4 L411.3,167.5 L411.4,167.5 L411.6,167.6 L411.7,167.6 L411.9,167.7 L412.0,167.8 L412.2,167.8 L412.3,167.9 L412.5,167.9 L412.6,168.0 L412.8,168.1 L412.9,168.1" stroke="#ff0000" stroke-width="3.6"/>
<g fill="#ff0000" stroke="none">
<circle cx="81.5" cy="46.7" r="2.9"/>
<circle cx="120.1" cy="72.4" r="2.9"/>
<circle cx="142.7" cy="84.0" r="2.9"/>
<circle cx="158.7" cy="90.1" r="2.9"/>
<circle cx="171.1" cy="94.5" r="2.9"/>
<circle cx="181.3" cy="98.0" r="2.9"/>
<circle cx="189.9" cy="101.2" r="2.9"/>
<circle cx="197.3" cy="103.7" r="2.9"/>
<circle cx="203.9" cy="105.8" r="2.9"/>
<circle cx="209.7" cy="107.7" r="2.9"/>
<circle cx="215.0" cy="109.5" r="2.9"/>
<circle cx="219.9" cy="111.2" r="2.9"/>
<circle cx="224.3" cy="112.7" r="2.9"/>
<circle cx="228.5" cy="114.1" r="2.9"/>
<circle cx="232.3" cy="115.3" r="2.9"/>
<circle cx="235.9" cy="116.5" r="2.9"/>
<circle cx="239.3" cy="117.5" r="2.9"/>
<circle cx="242.5" cy="118.5" r="2.9"/>
<circle cx="245.5" cy="119.4" r="2.9"/>
<circle cx="248.3" cy="120.2" r="2.9"/>
<circle cx="251.1" cy="121.0" r="2.9"/>
<circle cx="253.6" cy="121.7" r="2.9"/>
<circle cx="256.1" cy="122.4" r="2.9"/>
<circle cx="258.5" cy="123.1" r="2.9"/>
<circle cx="260.8" cy="123.7" r="2.9"/>
<circle cx="262.9" cy="124.2" r="2.9"/>
<circle cx="265.0" cy="124.8" r="2.9"/>
<circle cx="267.1" cy="125.3" r="2.9"/>
<circle cx="269.0" cy="125.8" r="2.9"/>
<circle cx="270.9" cy="126.3" r="2.9"/>
<circle cx="272.7" cy="126.8" r="2.9"/>
<circle cx="274.5" cy="127.3" r="2.9"/>
<circle cx="276.2" cy="127.8" r="2.9"/>
<circle cx="277.9" cy="128.2" r="2.9"/>
<circle cx="279.5" cy="128.7" r="2.9"/>
<circle cx="281.1" cy="129.1" r="2.9"/>
<circle cx="282.6" cy="129.5" r="2.9"/>
<circle cx="284.1" cy="129.9" r="2.9"/>
<circle cx="285.5" cy="130.3" r="2.9"/>
<circle cx="286.9" cy="130.7" r="2.9"/>
<circle cx="288.3" cy="131.1" r="2.9"/>
<circle cx="289.7" cy="131.4" r="2.9"/>
<circle cx="291.0" cy="131.8" r="2.9"/>
<circle cx="292.2" cy="132.1" r="2.9"/>
<circle cx="293.5" cy="132.5" r="2.9"/>
<circle cx="294.7" cy="132.8" r="2.9"/>
<circle cx="295.9" cy="133.2" r="2.9"/>
<circle cx="297.1" cy="133.5" r="2.9"/>
<circle cx="298.2" cy="133.8" r="2.9"/>
<circle cx="299.4" cy="134.1" r="2.9"/>
<circle cx="300.5" cy="134.4" r="2.9"/>
<circle cx="301.6" cy="134.7" r="2.9"/>
<circle cx="302.6" cy="135.0" r="2.9"/>
<circle cx="303.7" cy="135.3" r="2.9"/>
<circle cx="304.7" cy="135.6" r="2.9"/>
<circle cx="305.7" cy="135.9" r="2.9"/>
<circle cx="306.7" cy="136.2" r="2.9"/>
<circle cx="307.6" cy="136.4" r="2.9"/>
<circle cx="308.6" cy="136.7" r="2.9"/>
<circle cx="309.5" cy="137.0" r="2.9"/>
<circle cx="310.4" cy="137.3" r="2.9"/>
<circle cx="311.3" cy="137.5" r="2.9"/>
<circle cx="313.1" cy="138.0" r="2.9"/>
<circle cx="314.8" cy="138.5" r="2.9"/>
<circle cx="316.5" cy="139.0" r="2.9"/>
<circle cx="318.1" cy="139.4" r="2.9"/>
<circle cx="319.7" cy="139.8" r="2.9"/>
<circle cx="321.2" cy="140.2" r="2.9"/>
<circle cx="322.7" cy="140.5" r="2.9"/>
<circle cx="324.1" cy="140.9" r="2.9"/>
<circle cx="325.5" cy="141.2" r="2.9"/>
<circle cx="326.9" cy="141.5" r="2.9"/>
<circle cx="328.3" cy="141.8" r="2.9"/>
<circle cx="329.6" cy="142.1" r="2.9"/>
<circle cx="330.8" cy="142.4" r="2.9"/>
<circle cx="332.1" cy="142.6" r="2.9"/>
<circle cx="333.3" cy="142.9" r="2.9"/>
<circle cx="334.5" cy="143.1" r="2.9"/>
<circle cx="335.7" cy="143.4" r="2.9"/>
<circle cx="336.8" cy="143.6" r="2.9"/>
<circle cx="338.0" cy="143.9" r="2.9"/>
<circle cx="339.1" cy="144.1" r="2.9"/>
<circle cx="340.2" cy="144.3" r="2.9"/>
<circle cx="341.2" cy="144.6" r="2.9"/>
<circle cx="342.3" cy="144.8" r="2.9"/>
<circle cx="343.3" cy="145.0" r="2.9"/>
<circle cx="344.3" cy="145.2" r="2.9"/>
<circle cx="345.3" cy="145.4" r="2.9"/>
<circle cx="346.2" cy="145.6" r="2.9"/>
<circle cx="347.2" cy="145.8" r="2.9"/>
<circle cx="348.1" cy="145.9" r="2.9"/>
<circle cx="349.0" cy="146.1" r="2.9"/>
<circle cx="349.9" cy="146.3" r="2.9"/>
<circle cx="351.3" cy="146.6" r="2.9"/>
<circle cx="352.6" cy="146.8" r="2.9"/>
<circle cx="353.9" cy="147.1" r="2.9"/>
<circle cx="355.1" cy="147.4" r="2.9"/>
<circle cx="356.3" cy="147.7" r="2.9"/>
<circle cx="357.5" cy="148.0" r="2.9"/>
<circle cx="358.7" cy="148.2" r="2.9"/>
<circle cx="359.8" cy="148.5" r="2.9"/>
<circle cx="360.9" cy="148.9" r="2.9"/>
<circle cx="362.0" cy="149.2" r="2.9"/>
<circle cx="363.1" cy="149.5" r="2.9"/>
<circle cx="364.1" cy="149.9" r="2.9"/>
<circle cx="365.2" cy="150.2" r="2.9"/>
<circle cx="366.2" cy="150.6" r="2.9"/>
<circle cx="367.2" cy="151.0" r="2.9"/>
<circle cx="368.2" cy="151.4" r="2.9"/>
<circle cx="369.1" cy="151.7" r="2.9"/>
<circle cx="370.1" cy="152.1" r="2.9"/>
<circle cx="371.0" cy="152.5" r="2.9"/>
<circle cx="371.9" cy="152.9" r="2.9"/>
<circle cx="372.8" cy="153.2" r="2.9"/>
<circle cx="374.0" cy="153.7" r="2.9"/>
<circle cx="375.2" cy="154.2" r="2.9"/>
<circle cx="376.3" cy="154.6" r="2.9"/>
<circle cx="377.4" cy="155.0" r="2.9"/>
<circle cx="378.5" cy="155.4" r="2.9"/>
<circle cx="379.6" cy="155.8" r="2.9"/>
<circle cx="380.6" cy="156.2" r="2.9"/>
<circle cx="381.6" cy="156.6" r="2.9"/>
<circle cx="382.6" cy="156.9" r="2.9"/>
<circle cx="383.6" cy="157.3" r="2.9"/>
<circle cx="384.6" cy="157.6" r="2.9"/>
<circle cx="385.6" cy="157.9" r="2.9"/>
<circle cx="386.5" cy="158.3" r="2.9"/>
<circle cx="387.4" cy="158.6" r="2.9"/>
<circle cx="388.3" cy="158.9" r="2.9"/>
<circle cx="389.4" cy="159.3" r="2.9"/>
<circle cx="390.5" cy="159.6" r="2.9"/>
<circle cx="391.6" cy="160.0" r="2.9"/>
<circle cx="392.7" cy="160.4" r="2.9"/>
<circle cx="393.7" cy="160.7" r="2.9"/>
<circle cx="394.7" cy="161.1" r="2.9"/>
<circle cx="395.7" cy="161.4" r="2.9"/>
<circle cx="396.7" cy="161.8" r="2.9"/>
<circle cx="397.6" cy="162.1" r="2.9"/>
<circle cx="398.6" cy="162.5" r="2.9"/>
<circle cx="399.5" cy="162.8" r="2.9"/>
<circle cx="400.4" cy="163.2" r="2.9"/>
<circle cx="401.5" cy="163.6" r="2.9"/>
<circle cx="402.6" cy="164.0" r="2.9"/>
<circle cx="403.6" cy="164.4" r="2.9"/>
<circle cx="404.6" cy="164.8" r="2.9"/>
<circle cx="405.6" cy="165.2" r="2.9"/>
<circle cx="406.6" cy="165.6" r="2.9"/>
<circle cx="407.6" cy="165.9" r="2.9"/>
<circle cx="408.5" cy="166.3" r="2.9"/>
<circle cx="409.5" cy="166.7" r="2.9"/>
<circle cx="410.4" cy="167.1" r="2.9"/>
<circle cx="411.3" cy="167.5" r="2.9"/>
<circle cx="412.3" cy="167.9" r="2.9"/>
</g>
</g>
<path d="M54.5,0 H471.0" stroke="#808080" stroke-width="2.4"/>
<g stroke="#000" stroke-width="1.25" fill="none">
<path d="M54.5,0 V328.0 H470.4 V0"/>
<path d="M54.5,328.0 v-2.1 M54.5,0 v2.6 M66.9,328.0 v-2.1 M66.9,0 v2.6 M77.1,328.0 v-2.1 M77.1,0 v2.6 M85.7,328.0 v-2.1 M85.7,0 v2.6 M93.1,328.0 v-2.1 M93.1,0 v2.6 M99.7,328.0 v-2.1 M99.7,0 v2.6 M105.5,328.0 v-4.6 M105.5,0 v4.0 M144.2,328.0 v-2.1 M144.2,0 v2.6 M166.8,328.0 v-2.1 M166.8,0 v2.6 M182.8,328.0 v-2.1 M182.8,0 v2.6 M195.3,328.0 v-2.1 M195.3,0 v2.6 M205.4,328.0 v-2.1 M205.4,0 v2.6 M214.0,328.0 v-2.1 M214.0,0 v2.6 M221.5,328.0 v-2.1 M221.5,0 v2.6 M228.0,328.0 v-2.1 M228.0,0 v2.6 M233.9,328.0 v-4.6 M233.9,0 v4.0 M272.5,328.0 v-2.1 M272.5,0 v2.6 M295.1,328.0 v-2.1 M295.1,0 v2.6 M311.2,328.0 v-2.1 M311.2,0 v2.6 M323.6,328.0 v-2.1 M323.6,0 v2.6 M333.8,328.0 v-2.1 M333.8,0 v2.6 M342.4,328.0 v-2.1 M342.4,0 v2.6 M349.8,328.0 v-2.1 M349.8,0 v2.6 M356.4,328.0 v-2.1 M356.4,0 v2.6 M362.2,328.0 v-4.6 M362.2,0 v4.0 M400.9,328.0 v-2.1 M400.9,0 v2.6 M423.5,328.0 v-2.1 M423.5,0 v2.6 M439.5,328.0 v-2.1 M439.5,0 v2.6 M452.0,328.0 v-2.1 M452.0,0 v2.6 M462.1,328.0 v-2.1 M462.1,0 v2.6 M470.7,328.0 v-2.1 M470.7,0 v2.6 M54.5,328.0 h4.6 M470.4,328.0 h-4.6 M54.5,276.2 h2.1 M470.4,276.2 h-2.1 M54.5,245.9 h2.1 M470.4,245.9 h-2.1 M54.5,224.4 h2.1 M470.4,224.4 h-2.1 M54.5,207.8 h2.1 M470.4,207.8 h-2.1 M54.5,194.2 h2.1 M470.4,194.2 h-2.1 M54.5,182.6 h2.1 M470.4,182.6 h-2.1 M54.5,172.7 h2.1 M470.4,172.7 h-2.1 M54.5,163.9 h2.1 M470.4,163.9 h-2.1 M54.5,156.0 h4.6 M470.4,156.0 h-4.6 M54.5,104.2 h2.1 M470.4,104.2 h-2.1 M54.5,73.9 h2.1 M470.4,73.9 h-2.1 M54.5,52.4 h2.1 M470.4,52.4 h-2.1 M54.5,35.8 h2.1 M470.4,35.8 h-2.1 M54.5,22.2 h2.1 M470.4,22.2 h-2.1 M54.5,10.6 h2.1 M470.4,10.6 h-2.1 M54.5,0.7 h2.1 M470.4,0.7 h-2.1"/>
</g>
<g stroke="#000" stroke-width="0.3" fill="#000">
<text x="92.0" y="349.8" font-size="14">10</text>
<text x="108.6" y="341.7" font-size="9.8">−3</text>
<text x="220.6" y="349.8" font-size="14">10</text>
<text x="236.6" y="341.7" font-size="9.8">−2</text>
<text x="349.2" y="349.8" font-size="14">10</text>
<text x="365.2" y="341.7" font-size="9.8">−1</text>
<text x="19.3" y="161.6" font-size="14">10</text>
<text x="35.2" y="153.1" font-size="9.8">−14</text>
<text x="19.3" y="333.6" font-size="14">10</text>
<text x="35.2" y="325.1" font-size="9.8">−15</text>
<text x="238.3" y="365.2" font-size="13.8" textLength="7.3" lengthAdjust="spacingAndGlyphs" font-family="'Liberation Serif',serif" stroke-width="0.45">τ</text>
<text x="247.74" y="365.2" font-size="14" textLength="39.92" lengthAdjust="spacingAndGlyphs">[days]</text>
<text transform="translate(11.1,179.2) rotate(-90)" font-size="14">ASD</text>
<rect x="61.0" y="229.5" width="229.3" height="90.5" fill="#fff" stroke="none"/>
<path d="M60.4,229.5 H290.3 V320.4" fill="none" stroke="#000" stroke-width="1.15"/>
<path d="M61.2,229.5 V319.7 H290.8" fill="none" stroke="#505050" stroke-width="1.6"/>
<path d="M68.3,241.8 H106" stroke="#ff0000" stroke-width="3.2"/>
<text x="110.27" y="247.5" font-size="14" textLength="28.69" lengthAdjust="spacingAndGlyphs">ASD</text>
<path d="M68.3,263.5 H106" stroke="#0000ff" stroke-width="3.2"/>
<text x="109.11" y="269.2" font-size="14" textLength="124.33" lengthAdjust="spacingAndGlyphs">Linear fit: k = –0.22</text>
<path d="M68.3,285.2 H106" stroke="#008000" stroke-width="3.2"/>
<text x="109.11" y="290.9" font-size="14" textLength="145.42" lengthAdjust="spacingAndGlyphs">Linear fit with k := –1/2</text>
<path d="M68.3,306.8 H106" stroke="#00ffff" stroke-width="3.2"/>
<text x="109.11" y="312.5" font-size="14" textLength="180.19" lengthAdjust="spacingAndGlyphs">RW+IRW (1.5e–14@50min)</text>
<circle cx="86.9" cy="241.8" r="2.8" fill="#ff0000" stroke="none"/>
</g>
</svg>
</body></html>
